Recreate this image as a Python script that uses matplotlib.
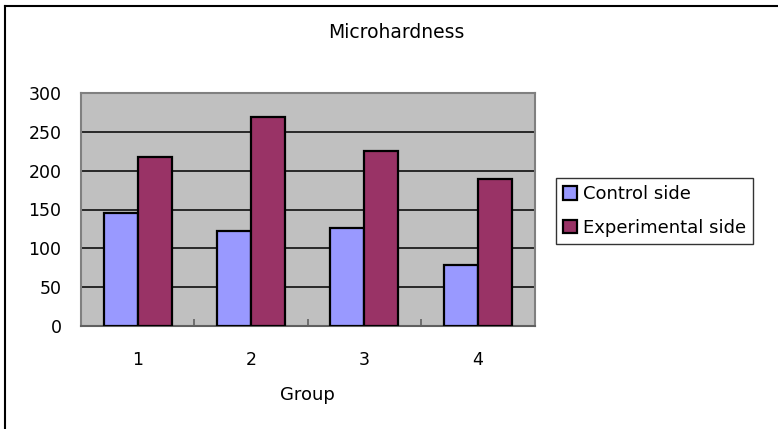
import matplotlib
matplotlib.use("Agg")
import matplotlib.pyplot as plt
from matplotlib.lines import Line2D
import numpy as np

W, H = 778, 429

groups = ["1", "2", "3", "4"]
control = [145, 122, 126, 78]
experimental = [218, 269, 225, 189]
series_names = ["Control side", "Experimental side"]
y_ticks = [0, 50, 100, 150, 200, 250, 300]

plt.rcParams['font.family'] = ['DejaVu Sans']

fig = plt.figure(figsize=(W / 100, H / 100), dpi=100)
ax = fig.add_axes([81 / W, 1 - 326 / H, (534.5 - 81) / W, (326 - 93) / H])

x = np.arange(len(groups))
bw = 0.3
ax.bar(x - bw / 2, control, bw, color="#9999FF", edgecolor="black",
       linewidth=1.6, label=series_names[0], zorder=3)
ax.bar(x + bw / 2, experimental, bw, color="#993366", edgecolor="black",
       linewidth=1.6, label=series_names[1], zorder=3)

ax.set_facecolor("#C0C0C0")
ax.set_xlim(-0.5, len(groups) - 0.5)
ax.set_ylim(0, 300)
ax.set_yticks(y_ticks)
ax.yaxis.grid(True, color="black", linewidth=1.1, zorder=1)
ax.set_axisbelow(True)
for s in ax.spines.values():
    s.set_color("#808080")
    s.set_linewidth(1.5)
ax.spines['bottom'].set_color("#606060")

ax.set_xticks(x)
ax.set_xticklabels(groups)
ax.set_xticks(np.arange(len(groups) - 1) + 0.5, minor=True)
ax.tick_params(axis='x', which='major', length=0, pad=18, labelsize=12.5)
ax.tick_params(axis='x', which='minor', direction='in', length=5,
               width=1.2, color="#606060")
ax.tick_params(axis='y', length=0, pad=14, labelsize=12.5)
ax.set_xlabel("Group", fontsize=13, labelpad=12)

fig.text(396 / W, 1 - 33 / H, "Microhardness", ha='center', va='center',
         fontsize=13.5)

leg = ax.legend(loc='upper left', bbox_to_anchor=(556 / W, 1 - 178 / H),
                bbox_transform=fig.transFigure, fontsize=13, frameon=True,
                fancybox=False, edgecolor="black", handlelength=0.75,
                handleheight=0.75, handletextpad=0.35, borderpad=0.4,
                labelspacing=0.85, borderaxespad=0)
leg.get_frame().set_linewidth(1.0)

# outer chart frame (top and left edges visible)
fig.add_artist(Line2D([5 / W, 1], [1 - 5.5 / H, 1 - 5.5 / H],
                      transform=fig.transFigure, color="black", linewidth=1.5))
fig.add_artist(Line2D([5 / W, 5 / W], [0, 1 - 5.5 / H],
                      transform=fig.transFigure, color="black", linewidth=1.5))

fig.savefig("out.png", dpi=100)
